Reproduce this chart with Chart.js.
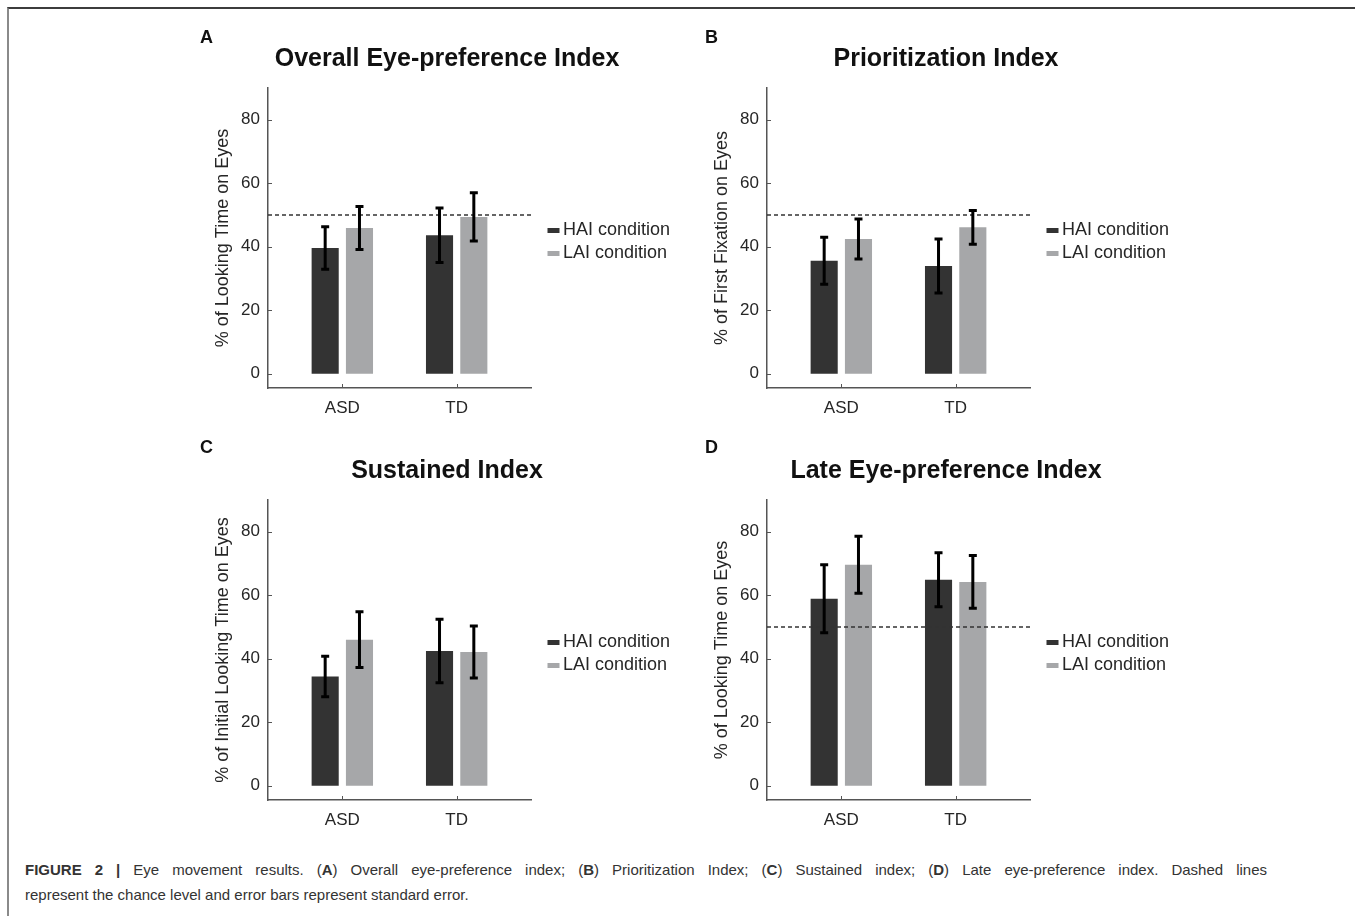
<!DOCTYPE html>
<html>
<head>
<meta charset="utf-8">
<script src="https://cdn.jsdelivr.net/npm/chart.js@4.4.1/dist/chart.umd.min.js"></script>
<style>
  body { margin: 0; width: 1355px; height: 916px; background: #fff; position: relative; overflow: hidden;
         font-family: "Liberation Sans", Arial, sans-serif; }
  #frame { position: absolute; left: 7px; top: 7px; width: 1360px; height: 920px;
           border-top: 2px solid #3c3c3c; border-left: 2px solid #8a8a8a; }
  .panel { position: absolute; width: 510px; height: 420px; }
  .letter { position: absolute; font-weight: bold; font-size: 18px; line-height: 20px; color: #111; }
  .title { position: absolute; font-weight: bold; font-size: 25px; line-height: 30px; color: #111;
           white-space: nowrap; transform: translateX(-50%); }
  #caption { position: absolute; left: 25px; top: 857px; font-size: 15px; line-height: 25px; color: #333; }
  #caption .l1 { width: 1242px; white-space: nowrap; text-align: justify; text-align-last: justify; }
  #caption .l2 { white-space: nowrap; }
</style>
</head>
<body>
<div id="frame"></div>

<div class="panel" style="left:180px; top:0px"><canvas id="chartA" width="510" height="420"></canvas></div>
<div class="panel" style="left:679px; top:0px"><canvas id="chartB" width="510" height="420"></canvas></div>
<div class="panel" style="left:180px; top:412px"><canvas id="chartC" width="510" height="420"></canvas></div>
<div class="panel" style="left:679px; top:412px"><canvas id="chartD" width="510" height="420"></canvas></div>

<div class="letter" style="left:200px; top:27px">A</div>
<div class="letter" style="left:705px; top:27px">B</div>
<div class="letter" style="left:200px; top:437px">C</div>
<div class="letter" style="left:705px; top:437px">D</div>

<div class="title" style="left:447px; top:42px">Overall Eye-preference Index</div>
<div class="title" style="left:946px; top:42px">Prioritization Index</div>
<div class="title" style="left:447px; top:454px">Sustained Index</div>
<div class="title" style="left:946px; top:454px">Late Eye-preference Index</div>

<div id="caption">
  <div class="l1"><b>FIGURE 2 |</b> Eye movement results. (<b>A</b>) Overall eye-preference index; (<b>B</b>) Prioritization Index; (<b>C</b>) Sustained index; (<b>D</b>) Late eye-preference index. Dashed lines</div>
  <div class="l2">represent the chance level and error bars represent standard error.</div>
</div>

<script>
// 群とx位置
const groups = ['ASD', 'TD'];
const groupPos = [1, 2];
const conditions = ['HAI condition', 'LAI condition'];
const yTicks = [0, 20, 40, 60, 80];
const chanceLevel = 50;

// A: Overall Eye-preference Index
const aHai = [39.6, 43.6];
const aHaiSe = [6.7, 8.6];
const aLai = [45.9, 49.4];
const aLaiSe = [6.8, 7.6];

// B: Prioritization Index
const bHai = [35.6, 33.9];
const bHaiSe = [7.4, 8.5];
const bLai = [42.4, 46.1];
const bLaiSe = [6.3, 5.3];

// C: Sustained Index
const cHai = [34.4, 42.4];
const cHaiSe = [6.4, 10.0];
const cLai = [46.0, 42.1];
const cLaiSe = [8.8, 8.2];

// D: Late Eye-preference Index
const dHai = [58.9, 64.9];
const dHaiSe = [10.7, 8.5];
const dLai = [69.6, 64.2];
const dLaiSe = [9.0, 8.3];

const yTitles = [
  '% of Looking Time on Eyes',
  '% of First Fixation on Eyes',
  '% of Initial Looking Time on Eyes',
  '% of Looking Time on Eyes'
];

const HAI_COLOR = '#333333';
const LAI_COLOR = '#a6a7a9';
const AXIS_COLOR = '#555555';
const TEXT_COLOR = '#262626';

// エラーバー・破線・内向き目盛り・凡例
const extrasPlugin = {
  id: 'extras',
  afterDatasetsDraw(chart, args, opts) {
    const { ctx, chartArea, scales: { y } } = chart;
    ctx.save();
    // chance level
    if (opts.chance) {
      const yy = y.getPixelForValue(chanceLevel);
      ctx.strokeStyle = '#333';
      ctx.lineWidth = 1.5;
      ctx.setLineDash([4, 3]);
      ctx.beginPath();
      ctx.moveTo(chartArea.left, yy);
      ctx.lineTo(chartArea.right, yy);
      ctx.stroke();
      ctx.setLineDash([]);
    }
    // error bars
    ctx.strokeStyle = '#000';
    ctx.lineWidth = 3;
    chart.data.datasets.forEach((ds, i) => {
      chart.getDatasetMeta(i).data.forEach((bar, j) => {
        const m = ds.data[j].y;
        const top = y.getPixelForValue(m + ds.se[j]);
        const bot = y.getPixelForValue(m - ds.se[j]);
        ctx.beginPath();
        ctx.moveTo(bar.x, top); ctx.lineTo(bar.x, bot);
        ctx.moveTo(bar.x - 4, top); ctx.lineTo(bar.x + 4, top);
        ctx.moveTo(bar.x - 4, bot); ctx.lineTo(bar.x + 4, bot);
        ctx.stroke();
      });
    });
    ctx.restore();
  },
  afterDraw(chart) {
    const { ctx, chartArea, scales: { x, y } } = chart;
    ctx.save();
    ctx.strokeStyle = AXIS_COLOR;
    ctx.lineWidth = 1;
    ctx.beginPath();
    y.ticks.forEach(t => {
      const yy = Math.round(y.getPixelForValue(t.value)) + 0.5;
      ctx.moveTo(chartArea.left, yy); ctx.lineTo(chartArea.left + 4, yy);
    });
    x.ticks.forEach(t => {
      const xx = Math.round(x.getPixelForValue(t.value)) + 0.5;
      ctx.moveTo(xx, chartArea.bottom); ctx.lineTo(xx, chartArea.bottom - 4);
    });
    ctx.stroke();
    // legend
    ctx.font = '18px "Liberation Sans", Arial, sans-serif';
    ctx.textBaseline = 'middle';
    chart.data.datasets.forEach((ds, i) => {
      const ly = 230.5 + i * 23;
      ctx.fillStyle = ds.backgroundColor;
      ctx.fillRect(chartArea.right + 16.5, ly - 2.5, 12, 5);
      ctx.fillStyle = TEXT_COLOR;
      ctx.fillText(ds.label, chartArea.right + 32, ly);
    });
    ctx.restore();
  }
};

function makeChart(id, hai, haiSe, lai, laiSe, yTitle, chance) {
  const ctx = document.getElementById(id).getContext('2d');
  return new Chart(ctx, {
    type: 'bar',
    data: {
      datasets: [
        { label: conditions[0], data: groupPos.map((g, i) => ({ x: g, y: hai[i] })), se: haiSe,
          backgroundColor: HAI_COLOR, categoryPercentage: 0.6, barPercentage: 0.79 },
        { label: conditions[1], data: groupPos.map((g, i) => ({ x: g, y: lai[i] })), se: laiSe,
          backgroundColor: LAI_COLOR, categoryPercentage: 0.6, barPercentage: 0.79 }
      ]
    },
    options: {
      responsive: false,
      animation: false,
      layout: { padding: { left: 0, top: 88, right: 159, bottom: 0 } },
      plugins: {
        legend: { display: false },
        tooltip: { enabled: false },
        extras: { chance }
      },
      scales: {
        x: {
          type: 'linear', min: 0.35, max: 2.65, offset: false,
          afterBuildTicks: s => { s.ticks = groupPos.map(v => ({ value: v })); },
          afterFit: s => { s.height = 32; },
          ticks: { callback: (v, i) => groups[i], font: { size: 17, family: '"Liberation Sans", Arial' },
                   color: TEXT_COLOR, padding: 10, maxRotation: 0, autoSkip: false },
          grid: { display: false, drawTicks: false, offset: false },
          border: { color: AXIS_COLOR, width: 1.5 }
        },
        y: {
          min: -4.5, max: 90,
          afterBuildTicks: s => { s.ticks = yTicks.map(v => ({ value: v })); },
          afterFit: s => { s.width = 88; },
          ticks: { font: { size: 17, family: '"Liberation Sans", Arial' }, color: TEXT_COLOR, padding: 8 },
          grid: { display: false, drawTicks: false },
          border: { color: AXIS_COLOR, width: 1.5 },
          title: { display: true, text: yTitle, color: TEXT_COLOR,
                   font: { size: 18, family: '"Liberation Sans", Arial' }, padding: { top: 32, bottom: 0 } }
        }
      }
    },
    plugins: [extrasPlugin]
  });
}

makeChart('chartA', aHai, aHaiSe, aLai, aLaiSe, yTitles[0], true);
makeChart('chartB', bHai, bHaiSe, bLai, bLaiSe, yTitles[1], true);
makeChart('chartC', cHai, cHaiSe, cLai, cLaiSe, yTitles[2], false);
makeChart('chartD', dHai, dHaiSe, dLai, dLaiSe, yTitles[3], true);
</script>
</body>
</html>
